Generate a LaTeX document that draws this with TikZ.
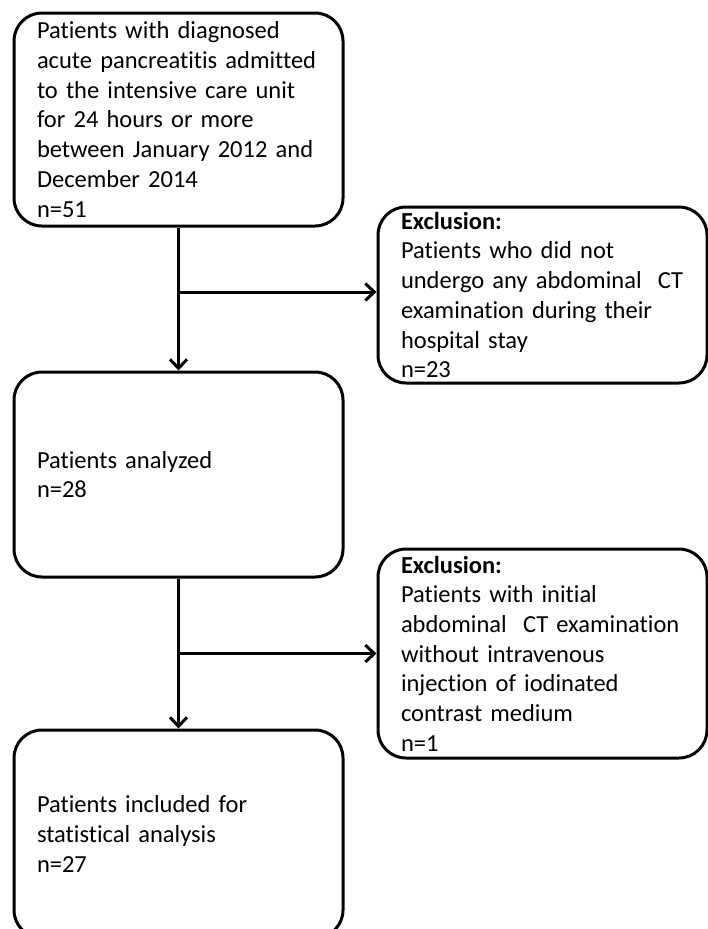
\documentclass[tikz,border=0pt]{standalone}
\usepackage{fontspec}
\setmainfont{Carlito}[Ligatures=CommonOff]
\usepackage{xcolor}
\usepackage{tikz}
\usetikzlibrary{positioning,arrows.meta}

\begin{document}
\begin{tikzpicture}[
  x=1pt, y=-1pt,
  every node/.style={font=\fontsize{24.5}{29.7}\selectfont},
  flowbox/.style={rectangle, rounded corners=28pt, draw=black, line width=3pt,
    align=left, text width=283pt, inner xsep=23pt, inner ysep=0pt,
    minimum width=329pt},
  arrow/.style={-{Straight Barb[length=9pt, width=17pt]}, line width=3pt},
]
\useasboundingbox (0,0) rectangle (708,929);

% Main flow
\node[flowbox, minimum height=213pt] (admit) at (178.5,119.5)
  {Patients with diagnosed\\acute pancreatitis admitted\\to the intensive care unit\\for 24 hours or more\\between January 2012 and\\December 2014\\n=51};
\node[flowbox, minimum height=205pt] (analyzed) at (178.5,474.5)
  {Patients analyzed\\n=28};
\node[flowbox, minimum height=208pt] (included) at (178.5,834)
  {Patients included for\\statistical analysis\\n=27};

% Exclusions
\node[flowbox, minimum height=176pt] (exclct) at (542.5,295)
  {\textbf{Exclusion:}\\Patients who did not\\undergo any abdominal\ \ CT\\examination during their\\hospital stay\\n=23};
\node[flowbox, minimum height=209pt] (exclcm) at (542.5,653.5)
  {\textbf{Exclusion:}\\Patients with initial\\abdominal\ \ CT examination\\without intravenous\\injection of iodinated\\contrast medium\\n=1};

% Branch points
\coordinate (split1) at (178.5,292);
\coordinate (split2) at (178.5,653.5);

% Arrows
\draw[arrow] (admit) -- (analyzed);
\draw[arrow] (analyzed) -- (included);
\draw[arrow] (split1) -- (split1 -| exclct.west);
\draw[arrow] (split2) -- (exclcm.west);
\end{tikzpicture}
\end{document}
